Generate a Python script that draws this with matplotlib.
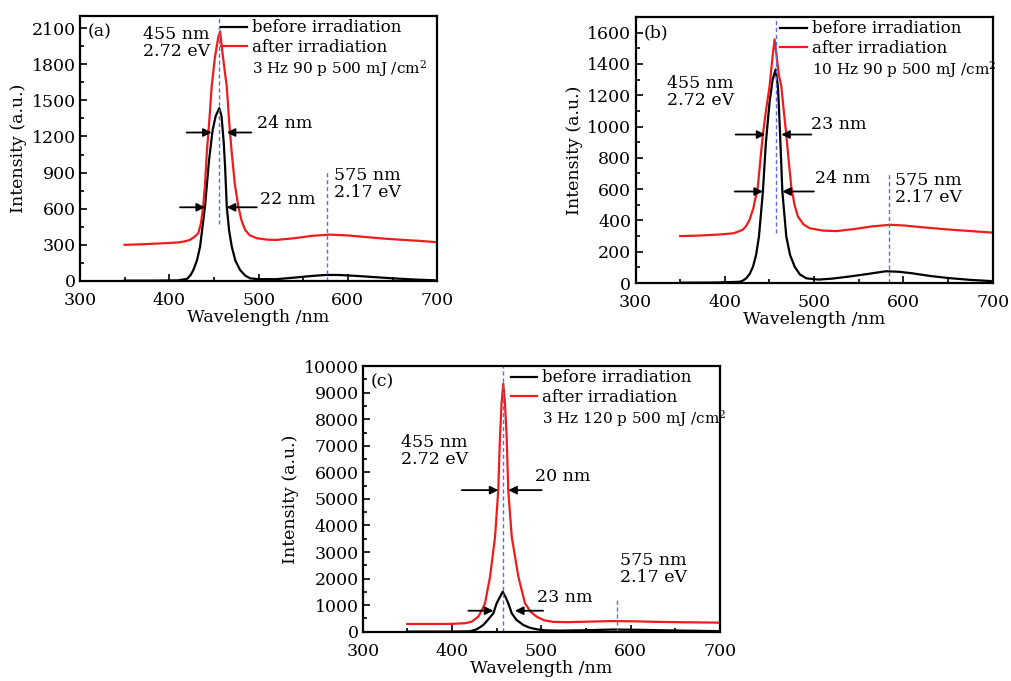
import matplotlib
matplotlib.use("Agg")
import matplotlib.pyplot as plt
from matplotlib.lines import Line2D
from matplotlib.ticker import MultipleLocator

plt.rcParams["font.family"] = ["DejaVu Serif"]
plt.rcParams["mathtext.fontset"] = "dejavuserif"

# ---- panel (a): 3 Hz 90 p ----
a_wl_before = [350, 380, 410, 420, 424, 427, 431, 434.5, 440, 444.5, 448.5, 452, 456,
               458.5, 461, 462.5, 464.4, 467, 470, 474, 479.3, 485, 490.5, 500, 520,
               540, 560, 575, 590, 610, 630, 650, 675, 700]
a_before = [3, 3, 5, 18, 50, 91, 170, 285, 617, 1000, 1250, 1370, 1435,
            1370, 1150, 950, 617, 420, 285, 170, 91, 45, 22, 15, 15,
            28, 42, 50, 50, 42, 32, 22, 12, 5]
a_wl_after = [350, 370, 390, 410, 418, 423, 428, 432.5, 435.5, 438, 440, 442, 445, 447.5,
              451, 455, 457, 459.5, 462, 464.4, 467, 470, 473.5, 477.4, 481, 485, 490,
              498, 510, 520, 540, 560, 580, 600, 620, 640, 660, 680, 700]
a_after = [300, 305, 312, 320, 330, 341, 365, 396, 480, 617, 800, 1061, 1350, 1615,
           1850, 2030, 2072, 1900, 1750, 1615, 1330, 1061, 800, 617, 500, 424, 380,
           355, 343, 341, 355, 375, 385, 378, 365, 352, 342, 333, 322]

# ---- panel (b): 10 Hz 90 p ----
b_wl_before = [350, 390, 416.5, 420, 424, 428, 431.5, 435, 438.2, 442.6, 446, 450, 453.5,
               456.9, 459.5, 461.5, 464.4, 468.8, 473, 478.2, 484, 491.3, 505, 520, 540,
               560, 580, 595, 610, 630, 650, 675, 700]
b_before = [2, 3, 8, 15, 30, 60, 104, 180, 297, 585, 900, 1152, 1300,
            1365, 1250, 1000, 585, 297, 180, 104, 55, 30, 22, 28, 42,
            58, 75, 72, 62, 45, 32, 20, 12]
b_wl_after = [350, 370, 394, 410, 420, 424, 427.7, 432, 437, 440, 442.6, 446, 450.1,
              453.5, 455.7, 458, 460.5, 463.2, 466, 468.8, 471.5, 474.4, 478, 481.8,
              488, 495, 510, 525, 545, 565, 585, 600, 620, 640, 660, 680, 700]
b_after = [300, 303, 310, 318, 340, 365, 404, 480, 617, 800, 949, 1100, 1258,
           1450, 1558, 1450, 1330, 1258, 1100, 949, 780, 617, 500, 425,
           375, 350, 335, 332, 345, 362, 372, 368, 357, 347, 338, 330, 322]

# ---- panel (c): 3 Hz 120 p ----
c_wl_before = [350, 400, 420, 427.6, 431, 435, 440, 446.3, 450, 453.5, 456.8, 460,
               463, 466.9, 472, 479.8, 487, 494.8, 505, 520, 550, 580, 610, 650, 700]
c_before = [5, 5, 15, 90, 160, 252, 440, 692, 1070, 1300, 1504, 1300,
            1070, 692, 450, 252, 150, 90, 50, 40, 55, 80, 70, 45, 20]
c_wl_after = [350, 380, 400, 415, 422, 429.4, 433, 437, 442.6, 448.2, 451.8, 453.7,
              455.5, 457.4, 459.3, 461.2, 463, 466.9, 474.3, 481.7, 488, 494.8, 503,
              513.4, 530, 555, 580, 605, 630, 660, 700]
c_after = [290, 290, 295, 320, 376, 564, 780, 1070, 2070, 3570, 5330, 7330,
           8600, 9340, 8600, 7330, 5330, 3570, 2070, 1070, 750, 564, 430,
           370, 360, 380, 400, 390, 370, 355, 340]

panels = [
    dict(rect=[0.079, 0.5874, 0.353, 0.389], tag="(a)", ymax=2200, ystep=300,
         wl_b=a_wl_before, b=a_before, wl_a=a_wl_after, a=a_after,
         cond="3 Hz 90 p 500 mJ /cm$^2$", leg_x=0.385,
         peak=(455.5, 474), side=(577, 922),
         peak_txt=(371, 1978), side_txt=(585, 806),
         arrows=[(1233, 419.5, 447.5, 492, 464.4, "24 nm", 498, 1310),
                 (612, 412, 440, 498, 464.4, "22 nm", 501.7, 680)]),
    dict(rect=[0.628, 0.5844, 0.353, 0.3906], tag="(b)", ymax=1700, ystep=200,
         wl_b=b_wl_before, b=b_before, wl_a=b_wl_after, a=b_after,
         cond="10 Hz 90 p 500 mJ /cm$^2$", leg_x=0.395,
         peak=(457, 318), side=(583.5, 703),
         peak_txt=(335, 1218), side_txt=(591, 602),
         arrows=[(949, 412, 445.3, 496.9, 463.2, "23 nm", 496.9, 1013),
                 (585, 411, 442.6, 499.7, 464.4, "24 nm", 500.6, 665)]),
    dict(rect=[0.3584, 0.0724, 0.353, 0.390], tag="(c)", ymax=10000, ystep=1000,
         wl_b=c_wl_before, b=c_before, wl_a=c_wl_after, a=c_after,
         cond="3 Hz 120 p 500 mJ /cm$^2$", leg_x=0.405,
         peak=(456.7, 0), side=(584.3, 1190),
         peak_txt=(342.5, 6800), side_txt=(588, 2360),
         arrows=[(5330, 410.9, 451.9, 500.4, 463, "20 nm", 493, 5850),
                 (790, 418.3, 446.3, 502, 470.5, "23 nm", 494.7, 1290)]),
]

fig = plt.figure(figsize=(10.12, 6.81), dpi=100)
FS = 12.5
dash_col = "#5b6fd8"

for p in panels:
    ax = fig.add_axes(p["rect"])
    hb, = ax.plot(p["wl_b"], p["b"], color="black", lw=1.6)
    ha, = ax.plot(p["wl_a"], p["a"], color="#ee1c1c", lw=1.6)
    ax.set_xlim(300, 700)
    ax.set_ylim(0, p["ymax"])
    ax.xaxis.set_major_locator(MultipleLocator(100))
    ax.xaxis.set_minor_locator(MultipleLocator(50))
    ax.yaxis.set_major_locator(MultipleLocator(p["ystep"]))
    ax.yaxis.set_minor_locator(MultipleLocator(p["ystep"] / 2))
    ax.tick_params(which="both", direction="in", labelsize=FS, width=1.2)
    ax.tick_params(axis="y", pad=3)
    ax.tick_params(axis="x", pad=8)
    ax.tick_params(which="major", length=5)
    ax.tick_params(which="minor", length=3)
    for s in ax.spines.values():
        s.set_linewidth(1.6)
    ax.set_xlabel("Wavelength /nm", fontsize=FS, labelpad=0)
    ax.set_ylabel("Intensity (a.u.)", fontsize=FS, labelpad=3)

    # dashed guide lines
    ax.plot([p["peak"][0]] * 2, [p["peak"][1], p["ymax"]], ls=(0, (3, 2)),
            color=dash_col, lw=1)
    ax.plot([p["side"][0]] * 2, [0, p["side"][1]], ls=(0, (3, 2)), color=dash_col, lw=1)

    ax.text(*p["peak_txt"], "455 nm\n2.72 eV", fontsize=FS, va="center", ha="left",
            linespacing=1.0)
    ax.text(*p["side_txt"], "575 nm\n2.17 eV", fontsize=FS, va="center", ha="left",
            linespacing=1.0)
    ax.text(0.022, 0.94, p["tag"], transform=ax.transAxes, fontsize=FS,
            va="center", ha="left")

    for y, x0, x1, x2, x3, lab, tx, ty in p["arrows"]:
        ax.annotate("", xy=(x1, y), xytext=(x0, y),
                    arrowprops=dict(arrowstyle="-|>", color="black", lw=1.3,
                                    mutation_scale=12, shrinkA=0, shrinkB=0))
        ax.annotate("", xy=(x3, y), xytext=(x2, y),
                    arrowprops=dict(arrowstyle="-|>", color="black", lw=1.3,
                                    mutation_scale=12, shrinkA=0, shrinkB=0))
        ax.text(tx, ty, lab, fontsize=FS, va="center", ha="left")

    blank = Line2D([], [], color="none")
    leg = ax.legend([hb, ha, blank],
                    ["before irradiation", "after irradiation", p["cond"]],
                    loc="upper left", bbox_to_anchor=(p["leg_x"], 1.0),
                    frameon=False, fontsize=12, handlelength=1.6,
                    handletextpad=0.3, labelspacing=0.15, borderpad=0.2,
                    borderaxespad=0)
    leg.get_texts()[2].set_fontsize(11)

fig.savefig("out.png", dpi=100)
